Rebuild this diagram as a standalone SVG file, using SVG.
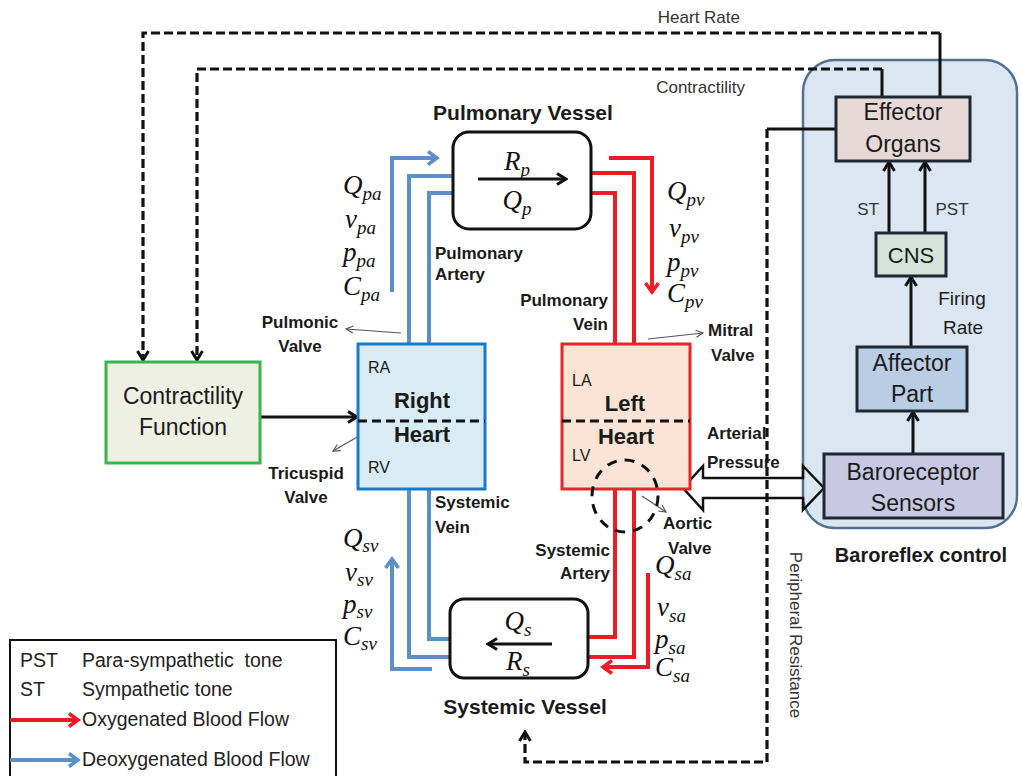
<svg xmlns="http://www.w3.org/2000/svg" width="1022" height="776" viewBox="0 0 1022 776">
  <style>
    .lbl { font-family: "Liberation Sans", Arial, sans-serif; fill: #1a1a1a; }
    .b { font-weight: bold; font-size: 17px; }
    .title { font-weight: bold; font-size: 21px; }
    .box { font-size: 23px; }
    .sm { font-size: 17px; fill: #333; }
    .leg { font-size: 19.5px; fill: #222; }
    .m { font-family: "Liberation Serif", "Times New Roman", serif; font-style: italic; font-size: 27px; fill: #111; }
    .sub { font-size: 19px; }
    .blue { fill: none; stroke: #5b8fc6; stroke-width: 4; }
    .red { fill: none; stroke: #ec1c24; stroke-width: 4; }
    .blk { fill: none; stroke: #111; stroke-width: 3; }
    .dash { fill: none; stroke: #111; stroke-width: 3.2; stroke-dasharray: 9 4; }
    .thin { fill: none; stroke: #555; stroke-width: 1.2; }
    .node { stroke: #1e2833; stroke-width: 3; }
  </style>
  <defs>
    <marker id="ah-k" viewBox="0 0 14 14" refX="12" refY="7" markerWidth="14" markerHeight="14" markerUnits="userSpaceOnUse" orient="auto">
      <path d="M3,1.5 L12,7 L3,12.5" fill="none" stroke="#111" stroke-width="3"/>
    </marker>
    <marker id="ah-b" viewBox="0 0 16 16" refX="13" refY="8" markerWidth="16" markerHeight="16" markerUnits="userSpaceOnUse" orient="auto">
      <path d="M4,1.5 L13,8 L4,14.5" fill="none" stroke="#5b8fc6" stroke-width="3.5"/>
    </marker>
    <marker id="ah-r" viewBox="0 0 16 16" refX="13" refY="8" markerWidth="16" markerHeight="16" markerUnits="userSpaceOnUse" orient="auto">
      <path d="M4,1.5 L13,8 L4,14.5" fill="none" stroke="#ec1c24" stroke-width="3.5"/>
    </marker>
    <marker id="ah-g" viewBox="0 0 10 10" refX="9" refY="5" markerWidth="10" markerHeight="10" markerUnits="userSpaceOnUse" orient="auto">
      <path d="M2,1.5 L9,5 L2,8.5" fill="none" stroke="#555" stroke-width="1.2"/>
    </marker>
  </defs>

  <rect width="1022" height="776" fill="#ffffff"/>

  <!-- Baroreflex control panel -->
  <g id="baroreflex-panel">
    <rect x="803" y="60" width="214" height="468" rx="32" fill="#dce6f2" stroke="#4f7094" stroke-width="2.5"/>
    <text class="lbl" x="921" y="562" text-anchor="middle" font-weight="bold" font-size="20">Baroreflex control</text>
  </g>

  <!-- Blood flow connectors -->
  <g id="flow">
    <!-- deoxygenated side -->
    <path class="blue" d="M392,292 V158 H437" marker-end="url(#ah-b)"/>
    <path class="blue" d="M409,344 V176 H453"/>
    <path class="blue" d="M429,344 V193 H453"/>
    <path class="blue" d="M409,489 V657 H450"/>
    <path class="blue" d="M429,489 V639 H450"/>
    <path class="blue" d="M432,669 H392 V559" marker-end="url(#ah-b)"/>
    <!-- oxygenated side -->
    <path class="red" d="M591,193 H615 V343"/>
    <path class="red" d="M591,173 H634 V343"/>
    <path class="red" d="M609,158 H652 V292" marker-end="url(#ah-r)"/>
    <path class="red" d="M615,489 V637 H588"/>
    <path class="red" d="M634,489 V657 H588"/>
    <path class="red" d="M648,573 V667 H603" marker-end="url(#ah-r)"/>
  </g>

  <!-- Control connectors -->
  <g id="control">
    <!-- heart rate -->
    <path class="blk" d="M940,97 V33"/>
    <path class="dash" d="M940,33 H143 V360" marker-end="url(#ah-k)"/>
    <!-- contractility -->
    <path class="blk" d="M882,97 V69"/>
    <path class="dash" d="M882,69 H197 V360" marker-end="url(#ah-k)"/>
    <!-- peripheral resistance -->
    <path class="blk" d="M836,129 H767"/>
    <path class="dash" d="M767,129 V762 H525 V732" marker-end="url(#ah-k)"/>
    <!-- contractility function to right heart -->
    <path class="blk" d="M260,417 H357" marker-end="url(#ah-k)"/>
    <!-- baroreflex chain -->
    <path class="blk" d="M913,454 V412" marker-end="url(#ah-k)"/>
    <path class="blk" d="M911,347 V277" marker-end="url(#ah-k)"/>
    <path class="blk" d="M889,233 V162" marker-end="url(#ah-k)"/>
    <path class="blk" d="M925,233 V162" marker-end="url(#ah-k)"/>
    <!-- arterial pressure (two-way hollow arrow) -->
    <polygon points="683,488 703,466 703,478 803,478 803,466 824,488 803,510 803,498 703,498 703,510" fill="none" stroke="#111" stroke-width="2.5" stroke-linejoin="miter"/>
    <!-- valve pointers -->
    <path class="thin" d="M401,333 L346,329" marker-end="url(#ah-g)"/>
    <path class="thin" d="M359,436 L333,451" marker-end="url(#ah-g)"/>
    <path class="thin" d="M648,339 L703,333" marker-end="url(#ah-g)"/>
    <path class="thin" d="M642,496 L666,512" marker-end="url(#ah-g)"/>
  </g>

  <!-- Pulmonary vessel -->
  <g id="pulmonary-vessel">
    <rect x="453" y="132" width="138" height="97" rx="16" fill="#ffffff" stroke="#111" stroke-width="3"/>
    <path class="blk" d="M478,179 H566" marker-end="url(#ah-k)"/>
    <text class="m" x="517" y="170" text-anchor="middle">R<tspan class="sub" dy="6">p</tspan></text>
    <text class="m" x="517" y="209" text-anchor="middle">Q<tspan class="sub" dy="6">p</tspan></text>
    <text class="lbl title" x="523" y="120" text-anchor="middle">Pulmonary Vessel</text>
  </g>

  <!-- Systemic vessel -->
  <g id="systemic-vessel">
    <rect x="450" y="599" width="138" height="79" rx="14" fill="#ffffff" stroke="#111" stroke-width="3"/>
    <path class="blk" d="M552,644 H488" marker-end="url(#ah-k)"/>
    <text class="m" x="518" y="630" text-anchor="middle">Q<tspan class="sub" dy="6">s</tspan></text>
    <text class="m" x="518" y="670" text-anchor="middle">R<tspan class="sub" dy="6">s</tspan></text>
    <text class="lbl title" x="525" y="714" text-anchor="middle">Systemic Vessel</text>
  </g>

  <!-- Right heart -->
  <g id="right-heart">
    <rect x="358" y="344" width="127" height="145" fill="#d9ebf5" stroke="#1a7ac8" stroke-width="3"/>
    <line x1="358" y1="421" x2="485" y2="421" stroke="#111" stroke-width="3" stroke-dasharray="9 5"/>
    <text class="lbl" x="368" y="373" font-size="16" fill="#333">RA</text>
    <text class="lbl" x="368" y="473" font-size="16" fill="#333">RV</text>
    <text class="lbl" x="422" y="408" text-anchor="middle" font-weight="bold" font-size="22">Right</text>
    <text class="lbl" x="422" y="442" text-anchor="middle" font-weight="bold" font-size="22">Heart</text>
  </g>

  <!-- Left heart -->
  <g id="left-heart">
    <rect x="562" y="344" width="128" height="145" fill="#fbe3d5" stroke="#e8262a" stroke-width="3"/>
    <line x1="562" y1="421" x2="690" y2="421" stroke="#111" stroke-width="3" stroke-dasharray="9 5"/>
    <text class="lbl" x="572" y="386" font-size="16" fill="#333">LA</text>
    <text class="lbl" x="572" y="461" font-size="16" fill="#333">LV</text>
    <text class="lbl" x="625" y="411" text-anchor="middle" font-weight="bold" font-size="22">Left</text>
    <text class="lbl" x="626" y="444" text-anchor="middle" font-weight="bold" font-size="22">Heart</text>
    <ellipse cx="625" cy="496" rx="33" ry="36" fill="none" stroke="#111" stroke-width="3" stroke-dasharray="10 8"/>
  </g>

  <!-- Contractility function -->
  <g id="contractility-function">
    <rect x="106" y="362" width="154" height="101" fill="#eef0e3" stroke="#3cb44b" stroke-width="3"/>
    <text class="lbl box" x="183" y="404" text-anchor="middle">Contractility</text>
    <text class="lbl box" x="183" y="435" text-anchor="middle">Function</text>
  </g>

  <!-- Effector organs -->
  <g id="effector-organs">
    <rect class="node" x="836" y="97" width="134" height="64" fill="#e6d9d7"/>
    <text class="lbl box" x="903" y="120" text-anchor="middle" fill="#333">Effector</text>
    <text class="lbl box" x="903" y="152" text-anchor="middle" fill="#333">Organs</text>
  </g>

  <!-- CNS -->
  <g id="cns">
    <rect class="node" x="876" y="233" width="70" height="43" fill="#d5e4da"/>
    <text class="lbl" x="911" y="263" text-anchor="middle" font-size="22" fill="#333">CNS</text>
  </g>

  <!-- Affector part -->
  <g id="affector-part">
    <rect class="node" x="857" y="347" width="110" height="64" fill="#b9cde5"/>
    <text class="lbl box" x="912" y="371" text-anchor="middle" fill="#333">Affector</text>
    <text class="lbl box" x="912" y="402" text-anchor="middle" fill="#333">Part</text>
  </g>

  <!-- Baroreceptor sensors -->
  <g id="baroreceptor-sensors">
    <rect class="node" x="824" y="454" width="179" height="64" fill="#c8c8e2"/>
    <text class="lbl box" x="913" y="480" text-anchor="middle" fill="#333">Baroreceptor</text>
    <text class="lbl box" x="913" y="511" text-anchor="middle" fill="#333">Sensors</text>
  </g>

  <!-- Signal labels -->
  <g id="signal-labels">
    <text class="lbl sm" x="740" y="23" text-anchor="end">Heart Rate</text>
    <text class="lbl sm" x="745" y="93" text-anchor="end">Contractility</text>
    <text class="lbl sm" x="868" y="215" text-anchor="middle">ST</text>
    <text class="lbl sm" x="952" y="215" text-anchor="middle">PST</text>
    <text class="lbl" x="962" y="305" text-anchor="middle" font-size="19" fill="#333">Firing</text>
    <text class="lbl" x="963" y="334" text-anchor="middle" font-size="19" fill="#555">Rate</text>
    <text class="lbl sm" transform="translate(790,635) rotate(90)" text-anchor="middle">Peripheral Resistance</text>
  </g>

  <!-- Vessel and valve labels -->
  <g id="vessel-labels">
    <text class="lbl b" x="435" y="259">Pulmonary</text>
    <text class="lbl b" x="435" y="280">Artery</text>
    <text class="lbl b" x="608" y="306" text-anchor="end">Pulmonary</text>
    <text class="lbl b" x="608" y="330" text-anchor="end">Vein</text>
    <text class="lbl b" x="300" y="328" text-anchor="middle">Pulmonic</text>
    <text class="lbl b" x="300" y="352" text-anchor="middle">Valve</text>
    <text class="lbl b" x="306" y="479" text-anchor="middle">Tricuspid</text>
    <text class="lbl b" x="306" y="503" text-anchor="middle">Valve</text>
    <text class="lbl b" x="708" y="336">Mitral</text>
    <text class="lbl b" x="711" y="361">Valve</text>
    <text class="lbl b" x="707" y="439">Arterial</text>
    <text class="lbl b" x="707" y="468">Pressure</text>
    <text class="lbl b" x="435" y="508">Systemic</text>
    <text class="lbl b" x="435" y="533">Vein</text>
    <text class="lbl b" x="610" y="556" text-anchor="end">Systemic</text>
    <text class="lbl b" x="610" y="579" text-anchor="end">Artery</text>
    <text class="lbl b" x="663" y="529">Aortic</text>
    <text class="lbl b" x="668" y="554">Valve</text>
  </g>

  <!-- State variables -->
  <g id="state-variables">
    <text class="m" x="343" y="194">Q<tspan class="sub" dy="6">pa</tspan></text>
    <text class="m" x="345" y="228">v<tspan class="sub" dy="6">pa</tspan></text>
    <text class="m" x="343" y="261">p<tspan class="sub" dy="6">pa</tspan></text>
    <text class="m" x="343" y="295">C<tspan class="sub" dy="6">pa</tspan></text>

    <text class="m" x="667" y="200">Q<tspan class="sub" dy="6">pv</tspan></text>
    <text class="m" x="669" y="237">v<tspan class="sub" dy="6">pv</tspan></text>
    <text class="m" x="667" y="271">p<tspan class="sub" dy="6">pv</tspan></text>
    <text class="m" x="667" y="302">C<tspan class="sub" dy="6">pv</tspan></text>

    <text class="m" x="343" y="547">Q<tspan class="sub" dy="5">sv</tspan></text>
    <text class="m" x="345" y="581">v<tspan class="sub" dy="5">sv</tspan></text>
    <text class="m" x="343" y="613">p<tspan class="sub" dy="5">sv</tspan></text>
    <text class="m" x="343" y="645">C<tspan class="sub" dy="5">sv</tspan></text>

    <text class="m" x="655" y="574">Q<tspan class="sub" dy="6">sa</tspan></text>
    <text class="m" x="657" y="616">v<tspan class="sub" dy="6">sa</tspan></text>
    <text class="m" x="655" y="648">p<tspan class="sub" dy="6">sa</tspan></text>
    <text class="m" x="655" y="676">C<tspan class="sub" dy="6">sa</tspan></text>
  </g>

  <!-- Legend -->
  <g id="legend">
    <rect x="10" y="640" width="326" height="150" fill="#ffffff" stroke="#111" stroke-width="2"/>
    <text class="lbl leg" x="20" y="667">PST</text>
    <text class="lbl leg" x="82" y="667" xml:space="preserve">Para-sympathetic  tone</text>
    <text class="lbl leg" x="20" y="696">ST</text>
    <text class="lbl leg" x="82" y="696">Sympathetic tone</text>
    <path class="red" d="M10,720 H78" marker-end="url(#ah-r)"/>
    <text class="lbl leg" x="82" y="726">Oxygenated Blood Flow</text>
    <path class="blue" d="M10,760 H78" marker-end="url(#ah-b)"/>
    <text class="lbl leg" x="82" y="766">Deoxygenated Blood Flow</text>
  </g>
</svg>
